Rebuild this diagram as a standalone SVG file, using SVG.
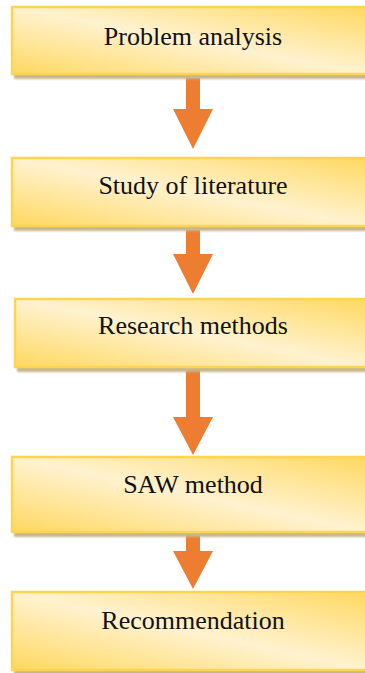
<svg xmlns="http://www.w3.org/2000/svg" width="365" height="673" viewBox="0 0 365 673">
  <defs>
    <linearGradient id="fillGrad" x1="1" y1="0" x2="0" y2="1">
      <stop offset="0" stop-color="#ffd860"/>
      <stop offset="0.5" stop-color="#fff2cf"/>
      <stop offset="1" stop-color="#ffd860"/>
    </linearGradient>
    <filter id="blur" x="-5%" y="-20%" width="110%" height="140%">
      <feGaussianBlur stdDeviation="0.8"/>
    </filter>
  </defs>
  <style>
    .shadow { fill: #c6b68c; filter: url(#blur); }
    .box { fill: url(#fillGrad); stroke: #ffd550; stroke-width: 2.5; }
    .label { font-family: "Liberation Serif", "Times New Roman", serif; font-size: 26px; fill: #111111; text-anchor: middle; }
    .arrow { fill: #ed7d31; }
  </style>
  <rect width="365" height="673" fill="#ffffff"/>

  <g id="connectors">
    <polygon class="arrow" points="186,78 200,78 200,109 213,109 193,149 173,109 186,109"/>
    <polygon class="arrow" points="186,230 200,230 200,254 213,254 193,294 173,254 186,254"/>
    <polygon class="arrow" points="186,368 200,368 200,417 213,417 193,455 173,417 186,417"/>
    <polygon class="arrow" points="186,533 200,533 200,551 213,551 193,589 173,551 186,551"/>
  </g>

  <g id="node-problem-analysis">
    <rect class="shadow" x="14" y="11" width="356" height="68"/>
    <rect class="box" x="12" y="7" width="356" height="67"/>
    <text class="label" x="193" y="45">Problem analysis</text>
  </g>

  <g id="node-study-of-literature">
    <rect class="shadow" x="14" y="162" width="356" height="69"/>
    <rect class="box" x="12" y="158" width="356" height="68"/>
    <text class="label" x="193" y="194">Study of literature</text>
  </g>

  <g id="node-research-methods">
    <rect class="shadow" x="17" y="303" width="353" height="69"/>
    <rect class="box" x="15" y="299" width="353" height="68"/>
    <text class="label" x="193" y="334">Research methods</text>
  </g>

  <g id="node-saw-method">
    <rect class="shadow" x="14" y="461" width="356" height="76"/>
    <rect class="box" x="12" y="457" width="356" height="75"/>
    <text class="label" x="193" y="493">SAW method</text>
  </g>

  <g id="node-recommendation">
    <rect class="shadow" x="14" y="596" width="356" height="79"/>
    <rect class="box" x="12" y="592" width="356" height="78"/>
    <text class="label" x="193" y="629">Recommendation</text>
  </g>
</svg>
